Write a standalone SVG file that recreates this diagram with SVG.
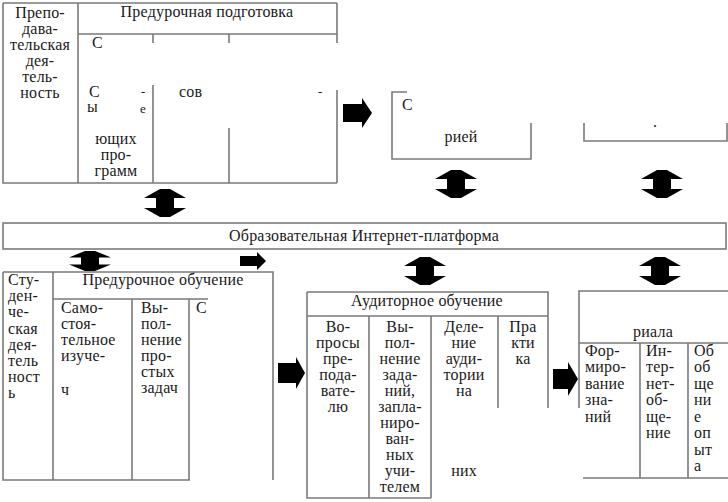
<svg xmlns="http://www.w3.org/2000/svg" xmlns:xlink="http://www.w3.org/1999/xlink" width="728" height="502" viewBox="0 0 728 502">
<style>
.ln{stroke:#7a7a7a;stroke-width:1.6;fill:none}
.t{font-family:"Liberation Serif","Times New Roman",serif;font-size:16px;letter-spacing:0.2px;fill:#1a1a1a}
.f{font-size:13px}
.c{text-anchor:middle}
.arw{fill:#000}
</style>
<defs>
<path id="dbl" d="M-5,-14 L5,-14 L21,-5 L9,-5 L9,5 L21,5 L5,14 L-5,14 L-21,5 L-9,5 L-9,-5 L-21,-5 Z"/>
</defs>
<rect width="728" height="502" fill="#fff"/>

<g id="teacher-activity">
<path class="ln" d="M3,3 H337 M3,3 V183 H337 M78,3 V183 M78,34 H337 M153,34 V43 M153,85 V183 M229,34 V43 M229,128 V183 M337,3 V43 M337,90 V183"/>
<g class="t c">
<text x="40" y="18">Препо-</text>
<text x="40" y="34">дава-</text>
<text x="40" y="50">тельская</text>
<text x="40" y="66">дея-</text>
<text x="40" y="82">тель-</text>
<text x="40" y="98">ность</text>
<text x="207" y="17">Предурочная подготовка</text>
<text x="116" y="144">ющих</text>
<text x="116" y="160">про-</text>
<text x="116" y="176">грамм</text>
</g>
<g class="t">
<text x="92" y="48">С</text>
<text x="89" y="97">С</text>
<text class="f" x="141" y="96">-</text>
<text x="87" y="112">ы</text>
<text class="f" x="140" y="113">е</text>
<text x="179" y="97">сов</text>
<text class="f" x="318" y="96">-</text>
</g>
</g>

<g id="audience-box">
<path class="ln" d="M407,92 H392 V159 H531 V123"/>
<text class="t" x="402" y="110">С</text>
<text class="t c" x="461" y="142">рией</text>
</g>

<g id="right-box">
<path class="ln" d="M584,123 V141 H727 V123"/>
<text class="t" x="653" y="127">.</text>
</g>

<g id="platform">
<rect class="ln" x="3" y="223" width="723" height="26"/>
<text class="t c" x="364" y="241">Образовательная Интернет-платформа</text>
</g>

<g id="student-activity">
<path class="ln" d="M3,272 H273 V480 M3,272 V480 H190 M53,272 V480 M53,299 H208 M132,299 V480 M189,299 V480"/>
<g class="t">
<text x="8" y="285">Сту-</text>
<text x="8" y="301">ден-</text>
<text x="8" y="317">че-</text>
<text x="8" y="334">ская</text>
<text x="8" y="350">дея-</text>
<text x="8" y="366">тель</text>
<text x="8" y="382">ност</text>
<text x="8" y="398">ь</text>
<text x="61" y="313">Само-</text>
<text x="61" y="329">стоя-</text>
<text x="61" y="345">тельное</text>
<text x="61" y="361">изуче-</text>
<text x="61" y="395">ч</text>
<text x="141" y="313">Вы-</text>
<text x="141" y="329">пол-</text>
<text x="141" y="345">нение</text>
<text x="141" y="361">про-</text>
<text x="141" y="377">стых</text>
<text x="141" y="393">задач</text>
<text x="196" y="313">С</text>
</g>
<text class="t c" x="163" y="285">Предурочное обучение</text>
</g>

<g id="auditorium">
<path class="ln" d="M307,292 H548 V408 M307,292 V498 H431 M307,316 H548 M369,316 V498 M431,316 V498 M498,316 V408"/>
<text class="t c" x="427" y="306">Аудиторное обучение</text>
<g class="t c">
<text x="338" y="332">Во-</text>
<text x="338" y="348">просы</text>
<text x="338" y="364">пре-</text>
<text x="338" y="380">пода-</text>
<text x="338" y="396">вате-</text>
<text x="338" y="412">лю</text>
<text x="400" y="332">Вы-</text>
<text x="400" y="348">пол-</text>
<text x="400" y="364">нение</text>
<text x="400" y="380">зада-</text>
<text x="400" y="396">ний,</text>
<text x="400" y="412">запла-</text>
<text x="400" y="428">ниро-</text>
<text x="400" y="444">ван-</text>
<text x="400" y="460">ных</text>
<text x="400" y="476">учи-</text>
<text x="400" y="492">телем</text>
<text x="464" y="332">Деле-</text>
<text x="464" y="348">ние</text>
<text x="464" y="364">ауди-</text>
<text x="464" y="380">тории</text>
<text x="464" y="396">на</text>
<text x="464" y="476">них</text>
<text x="523" y="332">Пра</text>
<text x="523" y="348">кти</text>
<text x="523" y="364">ка</text>
</g>
</g>

<g id="post-lesson">
<path class="ln" d="M579,408 V291 H728 M579,343 H728 M583,478 H728 M640,343 V478 M688,343 V478"/>
<text class="t c" x="653" y="337">риала</text>
<g class="t">
<text x="585" y="356">Фор-</text>
<text x="585" y="372">миро-</text>
<text x="585" y="389">вание</text>
<text x="585" y="405">зна-</text>
<text x="585" y="422">ний</text>
<text x="646" y="356">Ин-</text>
<text x="646" y="372">тер-</text>
<text x="646" y="389">нет-</text>
<text x="646" y="405">об-</text>
<text x="646" y="422">ще-</text>
<text x="646" y="438">ние</text>
<text x="694" y="356">Об</text>
<text x="694" y="372">об</text>
<text x="694" y="389">ще</text>
<text x="694" y="405">ни</text>
<text x="694" y="422">е</text>
<text x="694" y="438">оп</text>
<text x="694" y="455">ыт</text>
<text x="694" y="471">а</text>
</g>
</g>

<g id="connectors" class="arw">
<use xlink:href="#dbl" href="#dbl" transform="translate(165,203)"/>
<use xlink:href="#dbl" href="#dbl" transform="translate(456,184)"/>
<use xlink:href="#dbl" href="#dbl" transform="translate(662,184)"/>
<use xlink:href="#dbl" href="#dbl" transform="translate(90,261) scale(1,0.72)"/>
<use xlink:href="#dbl" href="#dbl" transform="translate(425,271)"/>
<use xlink:href="#dbl" href="#dbl" transform="translate(660,271)"/>
<path d="M343,104 H362 V98 L372,113 L362,128 V122 H343 Z"/>
<path d="M240,256 H257 V252 L266,261 L257,270 V266 H240 Z"/>
<path d="M278,363 H296 V357 L305,373 L296,389 V383 H278 Z"/>
<path d="M553,369 H568 V362 L578,379 L568,396 V389 H553 Z"/>
</g>
</svg>
